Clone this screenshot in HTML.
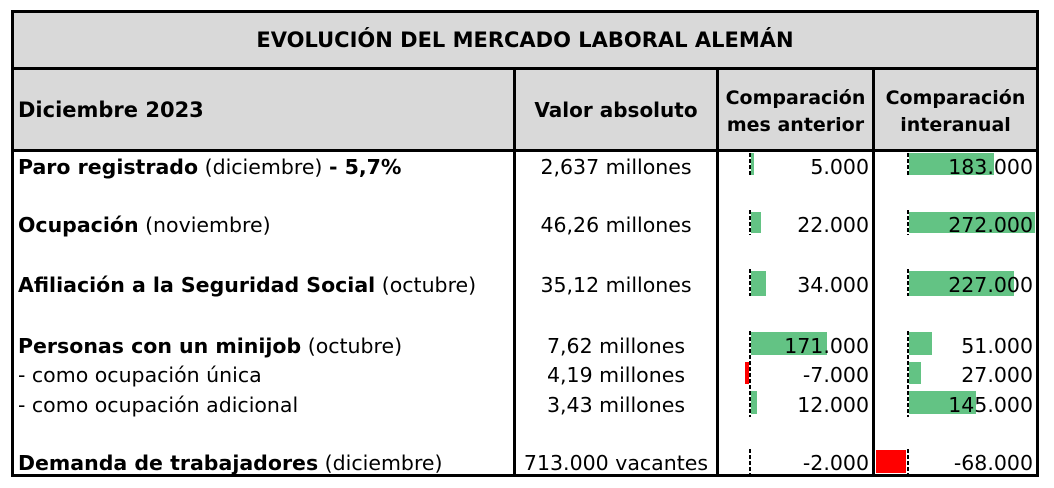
<!DOCTYPE html>
<html><head><meta charset="utf-8"><style>
body{margin:0;width:1054px;height:488px;background:#fff;position:relative;overflow:hidden;font-family:"DejaVu Sans","Liberation Sans",sans-serif;color:#000}
div{position:absolute}
.t{font-size:20.5px;white-space:nowrap;line-height:24px}
.b{font-weight:bold}
.r{text-align:right}
.c{text-align:center}
.g{background:#63c384}
.red{background:#ff0000}
.ax{width:2px;background:repeating-linear-gradient(#000 0 4px,transparent 4px 6px)}
</style></head><body>
<div style="left:11px;top:10px;width:1028px;height:467px;background:#fff;box-sizing:border-box;border:3px solid #000"></div>
<div style="left:14px;top:13px;width:1022px;height:54px;background:#d9d9d9"></div>
<div style="left:14px;top:70px;width:1022px;height:79px;background:#d9d9d9"></div>
<div style="left:14px;top:67px;width:1022px;height:3px;background:#000"></div>
<div style="left:14px;top:149px;width:1022px;height:3px;background:#000"></div>
<div style="left:513px;top:70px;width:3px;height:407px;background:#000"></div>
<div style="left:716px;top:70px;width:3px;height:407px;background:#000"></div>
<div style="left:872px;top:70px;width:3px;height:407px;background:#000"></div>

<div class="t b c" style="left:14px;width:1022px;top:28px;font-size:21px">EVOLUCIÓN DEL MERCADO LABORAL ALEMÁN</div>
<div class="t b" style="left:18px;top:98px;font-size:21px">Diciembre 2023</div>
<div class="t b c" style="left:516px;width:200px;top:98px;font-size:20px">Valor absoluto</div>
<div class="t b c" style="left:719px;width:153px;top:85px;line-height:27px;font-size:19px">Comparación<br>mes anterior</div>
<div class="t b c" style="left:875px;width:161px;top:85px;line-height:27px;font-size:19px">Comparación<br>interanual</div>

<!-- bars -->
<div class="g" style="left:751px;top:153px;width:3px;height:22px"></div>
<div class="g" style="left:909px;top:153px;width:85px;height:22px"></div>
<div class="g" style="left:751px;top:212px;width:10px;height:21px"></div>
<div class="g" style="left:909px;top:212px;width:126px;height:21px"></div>
<div class="g" style="left:751px;top:271px;width:15px;height:25px"></div>
<div class="g" style="left:909px;top:271px;width:105px;height:25px"></div>
<div class="g" style="left:751px;top:332px;width:76px;height:23px"></div>
<div class="g" style="left:909px;top:332px;width:23px;height:23px"></div>
<div class="red" style="left:745px;top:362px;width:4px;height:22px"></div>
<div class="g" style="left:909px;top:362px;width:12px;height:22px"></div>
<div class="g" style="left:751px;top:391px;width:6px;height:23px"></div>
<div class="g" style="left:909px;top:391px;width:67px;height:23px"></div>
<div class="red" style="left:876px;top:450px;width:30px;height:23px"></div>

<!-- axes -->
<div class="ax" style="left:749px;top:153px;height:24px"></div>
<div class="ax" style="left:907px;top:153px;height:24px"></div>
<div class="ax" style="left:749px;top:210px;height:25px"></div>
<div class="ax" style="left:907px;top:210px;height:25px"></div>
<div class="ax" style="left:749px;top:269px;height:27px"></div>
<div class="ax" style="left:907px;top:269px;height:27px"></div>
<div class="ax" style="left:749px;top:331px;height:86px"></div>
<div class="ax" style="left:907px;top:331px;height:86px"></div>
<div class="ax" style="left:749px;top:449px;height:25px"></div>
<div class="ax" style="left:907px;top:449px;height:25px"></div>

<!-- rows -->
<div class="t" style="left:18px;top:155px"><b>Paro registrado</b> (diciembre) <b>- 5,7%</b></div>
<div class="t c" style="left:516px;width:200px;top:155px">2,637 millones</div>
<div class="t r" style="left:719px;width:150px;top:155px">5.000</div>
<div class="t r" style="left:875px;width:158px;top:155px">183.000</div>

<div class="t" style="left:18px;top:213px"><b>Ocupación</b> (noviembre)</div>
<div class="t c" style="left:516px;width:200px;top:213px">46,26 millones</div>
<div class="t r" style="left:719px;width:150px;top:213px">22.000</div>
<div class="t r" style="left:875px;width:158px;top:213px">272.000</div>

<div class="t" style="left:18px;top:273px"><b>Afiliación a la Seguridad Social</b> (octubre)</div>
<div class="t c" style="left:516px;width:200px;top:273px">35,12 millones</div>
<div class="t r" style="left:719px;width:150px;top:273px">34.000</div>
<div class="t r" style="left:875px;width:158px;top:273px">227.000</div>

<div class="t" style="left:18px;top:334px"><b>Personas con un minijob</b> (octubre)</div>
<div class="t c" style="left:516px;width:200px;top:334px">7,62 millones</div>
<div class="t r" style="left:719px;width:150px;top:334px">171.000</div>
<div class="t r" style="left:875px;width:158px;top:334px">51.000</div>

<div class="t" style="left:18px;top:363px">- como ocupación única</div>
<div class="t c" style="left:516px;width:200px;top:363px">4,19 millones</div>
<div class="t r" style="left:719px;width:150px;top:363px">-7.000</div>
<div class="t r" style="left:875px;width:158px;top:363px">27.000</div>

<div class="t" style="left:18px;top:393px">- como ocupación adicional</div>
<div class="t c" style="left:516px;width:200px;top:393px">3,43 millones</div>
<div class="t r" style="left:719px;width:150px;top:393px">12.000</div>
<div class="t r" style="left:875px;width:158px;top:393px">145.000</div>

<div class="t" style="left:18px;top:451px"><b>Demanda de trabajadores</b> (diciembre)</div>
<div class="t c" style="left:516px;width:200px;top:451px">713.000 vacantes</div>
<div class="t r" style="left:719px;width:150px;top:451px">-2.000</div>
<div class="t r" style="left:875px;width:158px;top:451px">-68.000</div>
</body></html>
